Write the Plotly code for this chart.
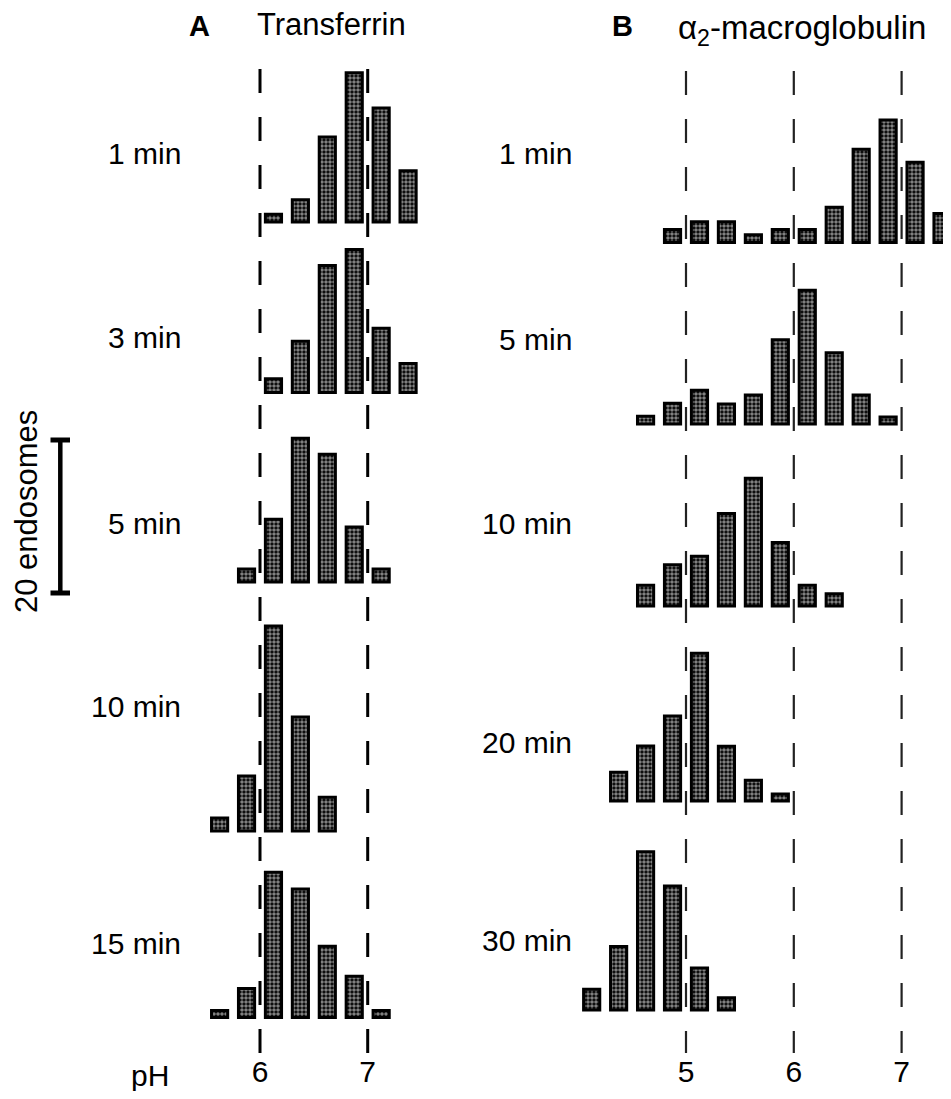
import plotly.graph_objects as go

# ---------------- data ----------------
# Panel A : Transferrin  (pH bin centres, number of endosomes)
a_labels = ["1 min", "3 min", "5 min", "10 min", "15 min"]
a_ph_1 = [6.125, 6.375, 6.625, 6.875, 7.125, 7.375]
a_n_1 = [1.0, 2.9, 11.1, 19.5, 14.9, 6.7]
a_ph_3 = [6.125, 6.375, 6.625, 6.875, 7.125, 7.375]
a_n_3 = [1.8, 6.7, 16.6, 18.7, 8.4, 3.8]
a_ph_5 = [5.875, 6.125, 6.375, 6.625, 6.875, 7.125]
a_n_5 = [1.7, 8.2, 18.8, 16.7, 7.2, 1.7]
a_ph_10 = [5.625, 5.875, 6.125, 6.375, 6.625]
a_n_10 = [1.7, 7.2, 26.8, 14.9, 4.4]
a_ph_15 = [5.625, 5.875, 6.125, 6.375, 6.625, 6.875, 7.125]
a_n_15 = [0.9, 3.8, 19.0, 16.8, 9.3, 5.4, 0.9]

# Panel B : alpha2-macroglobulin
b_labels = ["1 min", "5 min", "10 min", "20 min", "30 min"]
b_ph_1 = [4.875, 5.125, 5.375, 5.625, 5.875, 6.125, 6.375, 6.625, 6.875, 7.125, 7.375]
b_n_1 = [1.7, 2.7, 2.7, 1.0, 1.7, 1.7, 4.6, 12.2, 16.0, 10.5, 3.8]
b_ph_5 = [4.625, 4.875, 5.125, 5.375, 5.625, 5.875, 6.125, 6.375, 6.625, 6.875]
b_n_5 = [1.0, 2.7, 4.4, 2.6, 3.8, 11.0, 17.5, 9.3, 3.8, 0.9]
b_ph_10 = [4.625, 4.875, 5.125, 5.375, 5.625, 5.875, 6.125, 6.375]
b_n_10 = [2.7, 5.4, 6.5, 12.1, 16.7, 8.3, 2.7, 1.6]
b_ph_20 = [4.375, 4.625, 4.875, 5.125, 5.375, 5.625, 5.875]
b_n_20 = [3.75, 7.2, 11.1, 19.3, 7.15, 2.7, 0.9]
b_ph_30 = [4.125, 4.375, 4.625, 4.875, 5.125, 5.375]
b_n_30 = [2.7, 8.3, 20.7, 16.2, 5.5, 1.6]

a_ticks = [6, 7]
b_ticks = [5, 6, 7]
scale_endosomes = 20

# ---------------- layout constants ----------------
# positions below are given in window pixels; the page body has an 8px margin
OFF = 8
W, H = 951 - OFF, 1099 - 2 * OFF
AXIS_PX = 1062              # window px of the x-axis line
MB = (H + OFF) - AXIS_PX
PH = H - MB                 # plot height in px
PX_PER_UNIT = 7.65          # px per endosome
BAR_W = 0.15
LW = 3

A_ROW_BOTTOM = [220.5, 391.0, 580.5, 829.5, 1016.0]
A_LABEL_Y = [153, 337, 523, 706, 943]
B_ROW_BOTTOM = [241.0, 422.5, 604.5, 799.5, 1008.5]
B_LABEL_Y = [153, 340, 523, 742, 940]

A_PX6, A_SCALE = 260.0, 107.7
B_PX5, B_SCALE = 686.0, 107.8
A_LEFT, A_RIGHT = 184.0, 440.0
B_LEFT, B_RIGHT = 578.0, 951.0

FONT = "Liberation Sans, Arial, Helvetica, sans-serif"


def xp(px):
    return (px - OFF) / W


def yp(px):
    return (PH - (px - OFF)) / PH


def base_of(px_bottom):
    return (PH - (px_bottom - OFF) - LW / 2) / PX_PER_UNIT


a_rng = [6 + (A_LEFT - A_PX6) / A_SCALE, 6 + (A_RIGHT - A_PX6) / A_SCALE]
b_rng = [5 + (B_LEFT - B_PX5) / B_SCALE, 5 + (B_RIGHT - B_PX5) / B_SCALE]

marker = dict(
    color="black",
    line=dict(color="black", width=LW),
    pattern=dict(shape=".", fgcolor="white", bgcolor="black", size=4, solidity=0.62),
)

fig = go.Figure()

a_series = [(a_ph_1, a_n_1), (a_ph_3, a_n_3), (a_ph_5, a_n_5), (a_ph_10, a_n_10), (a_ph_15, a_n_15)]
b_series = [(b_ph_1, b_n_1), (b_ph_5, b_n_5), (b_ph_10, b_n_10), (b_ph_20, b_n_20), (b_ph_30, b_n_30)]

for (xs, ns), bot, lab in zip(a_series, A_ROW_BOTTOM, a_labels):
    fig.add_trace(go.Bar(x=xs, y=ns, base=base_of(bot), width=BAR_W, marker=marker,
                         xaxis="x", yaxis="y", name="Transferrin " + lab, showlegend=False))
for (xs, ns), bot, lab in zip(b_series, B_ROW_BOTTOM, b_labels):
    fig.add_trace(go.Bar(x=xs, y=ns, base=base_of(bot), width=BAR_W, marker=marker,
                         xaxis="x2", yaxis="y", name="α2-macroglobulin " + lab, showlegend=False))

shapes = []
DASH_TOP, DASH_BOT = 69, 1053
for v in a_ticks:
    shapes.append(dict(type="line", xref="x", yref="paper", x0=v, x1=v,
                       y0=yp(DASH_TOP), y1=yp(DASH_BOT), layer="below",
                       line=dict(color="black", width=3, dash="24px,24px")))
for v in b_ticks:
    shapes.append(dict(type="line", xref="x2", yref="paper", x0=v, x1=v,
                       y0=yp(DASH_TOP + 2), y1=yp(DASH_BOT), layer="below",
                       line=dict(color="#222222", width=2.2, dash="24px,24px")))

# scale bar: 20 endosomes
sb_base = base_of(593) + LW / 2 / PX_PER_UNIT
sb_x = xp(60.3)
cap_l, cap_r = xp(50.5), xp(70.0)
shapes.append(dict(type="line", xref="paper", yref="y", x0=sb_x, x1=sb_x,
                   y0=sb_base, y1=sb_base + scale_endosomes, line=dict(color="black", width=4.5)))
for yv in (sb_base, sb_base + scale_endosomes):
    shapes.append(dict(type="line", xref="paper", yref="y", x0=cap_l, x1=cap_r,
                       y0=yv, y1=yv, line=dict(color="black", width=5)))

annotations = []
for lab, ly in zip(a_labels, A_LABEL_Y):
    annotations.append(dict(text=lab, x=xp(183), y=yp(ly), xref="paper", yref="paper",
                            xanchor="right", yanchor="middle", showarrow=False,
                            font=dict(size=30, family=FONT, color="black")))
for lab, ly in zip(b_labels, B_LABEL_Y):
    annotations.append(dict(text=lab, x=xp(574), y=yp(ly), xref="paper", yref="paper",
                            xanchor="right", yanchor="middle", showarrow=False,
                            font=dict(size=30, family=FONT, color="black")))

annotations += [
    dict(text="<b>A</b>", x=xp(199), y=yp(26), xref="paper", yref="paper",
         xanchor="center", yanchor="middle", showarrow=False,
         font=dict(size=29, family=FONT, color="black")),
    dict(text="Transferrin", x=xp(255), y=yp(25), xref="paper", yref="paper",
         xanchor="left", yanchor="middle", showarrow=False,
         font=dict(size=31, family=FONT, color="black")),
    dict(text="<b>B</b>", x=xp(622), y=yp(26), xref="paper", yref="paper",
         xanchor="center", yanchor="middle", showarrow=False,
         font=dict(size=29, family=FONT, color="black")),
    dict(text="α<sub>2</sub>-macroglobulin", x=xp(676), y=yp(30), xref="paper", yref="paper",
         xanchor="left", yanchor="middle", showarrow=False,
         font=dict(size=33, family=FONT, color="black")),
    dict(text="20 endosomes", x=xp(26), y=yp(512), xref="paper", yref="paper",
         xanchor="center", yanchor="middle", textangle=-90, showarrow=False,
         font=dict(size=31, family=FONT, color="black")),
    dict(text="pH", x=xp(150), y=yp(1075), xref="paper", yref="paper",
         xanchor="center", yanchor="middle", showarrow=False,
         font=dict(size=30, family=FONT, color="black")),
]

axis_common = dict(showgrid=False, zeroline=False, showline=False, ticks="",
                   ticklabelstandoff=-11,
                   tickfont=dict(size=30, family=FONT, color="black"), fixedrange=True)

fig.update_layout(
    width=W, height=H,
    margin=dict(l=0, r=0, t=0, b=MB, pad=0),
    paper_bgcolor="white", plot_bgcolor="white",
    barmode="overlay",
    showlegend=False,
    xaxis=dict(domain=[xp(A_LEFT), xp(A_RIGHT)], range=a_rng, anchor="y",
               tickvals=a_ticks, ticktext=[str(t) for t in a_ticks], **axis_common),
    xaxis2=dict(domain=[xp(B_LEFT), 1], range=b_rng, anchor="y",
                tickvals=b_ticks, ticktext=[str(t) for t in b_ticks], **axis_common),
    yaxis=dict(domain=[0, 1], range=[0, PH / PX_PER_UNIT], visible=False, fixedrange=True),
    shapes=shapes,
    annotations=annotations,
)

fig.write_html("out.html")
